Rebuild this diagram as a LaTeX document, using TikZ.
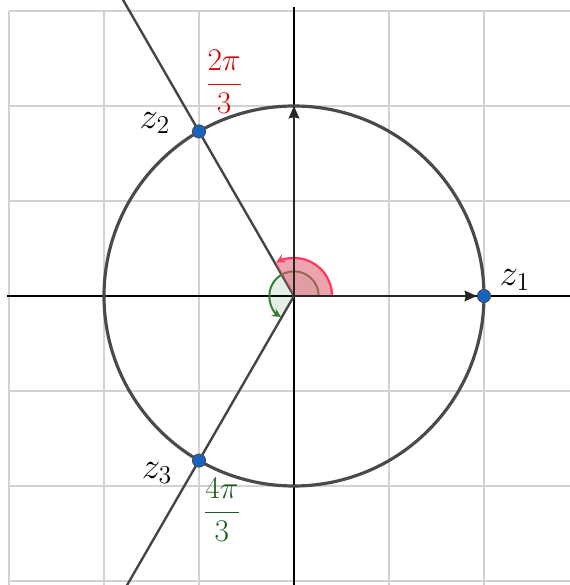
\documentclass[tikz,border=0pt]{standalone}
\usetikzlibrary{arrows.meta}
\definecolor{gridc}{HTML}{D2D2D2}
\definecolor{curvec}{HTML}{4A4A4A}
\definecolor{linec}{HTML}{444444}
\definecolor{ptc}{HTML}{1565C0}
\definecolor{redc}{HTML}{D50000}
\definecolor{redarc}{HTML}{FF3B5C}
\definecolor{redfill}{HTML}{E05A6E}
\definecolor{greenc}{HTML}{2E7D32}
\definecolor{greentext}{HTML}{1B5E20}
\tikzset{
  gridline/.style={draw=gridc, line width=0.7pt},
  axisline/.style={draw=black, line width=0.6pt},
  rayline/.style={draw=linec, line width=1.35pt},
  unitcircle/.style={draw=curvec, line width=1.8pt},
  vecline/.style={draw=black!85, line width=1.1pt, -{Stealth[length=7pt,width=6pt,inset=0.6pt]}},
  pt/.style={circle, fill=ptc, draw=black!70, line width=0.5pt, minimum size=7.5pt, inner sep=0pt},
  lbl/.style={font=\LARGE, scale=1.22, inner sep=0pt},
  fraclbl/.style={font=\LARGE, scale=1.04, inner sep=0pt},
}
\begin{document}
\begin{tikzpicture}[x=3.8cm,y=3.8cm]
\useasboundingbox (-1.5474,-1.5211) rectangle (1.4526,1.5579);
\coordinate (O) at (0,0);
\coordinate (I) at (0,1);
\coordinate (L2) at (120:1.9);
\coordinate (L3) at (240:1.9);
\coordinate (XL) at (-1.51,0);
\coordinate (XR) at (1.46,0);
\coordinate (YB) at (0,-1.53);
\coordinate (YT) at (0,1.52);
\begin{scope}
  \clip (-1.5474,-1.5211) rectangle (1.4526,1.5579);
  \draw[gridline] (-1.5,-1.6) grid[step=0.5] (1.6,1.5);
  \draw[axisline] (XL) -- (XR);
  \draw[axisline] (YB) -- (YT);
  \draw[rayline] (O) -- (L2);
  \draw[rayline] (O) -- (L3);
\end{scope}
\draw[unitcircle] (O) circle[radius=1];
% angles
\fill[greenc, fill opacity=0.12] (O) -- (0.13,0) arc[start angle=0, end angle=240, radius=0.13] -- cycle;
\draw[greenc, line width=1.1pt, -{Stealth[length=5pt,width=5pt]}] (0.13,0) arc[start angle=0, end angle=238, radius=0.13];
\fill[redfill, fill opacity=0.55] (O) -- (0.2,0) arc[start angle=0, end angle=120, radius=0.2] -- cycle;
\draw[redarc, line width=1.3pt, -{Stealth[length=5pt,width=5pt]}] (0.2,0) arc[start angle=0, end angle=118, radius=0.2];
% points
\node[pt] (z1) at (1,0) {};
\node[pt] (z2) at (120:1) {};
\node[pt] (z3) at (240:1) {};
\draw[vecline] (O) -- (I);
\draw[vecline] (O) -- (z1);
% labels
\node[lbl] (t1) at (1.163,0.084) {$z_1$};
\node[lbl] (t2) at (-0.732,0.911) {$z_2$};
\node[lbl] (t3) at (-0.721,-0.932) {$z_3$};
\node[fraclbl, text=redc] (a1) at (-0.368,1.126) {$\displaystyle\frac{2\pi}{3}$};
\node[fraclbl, text=greentext] (a2) at (-0.379,-1.126) {$\displaystyle\frac{4\pi}{3}$};
\end{tikzpicture}
\end{document}
